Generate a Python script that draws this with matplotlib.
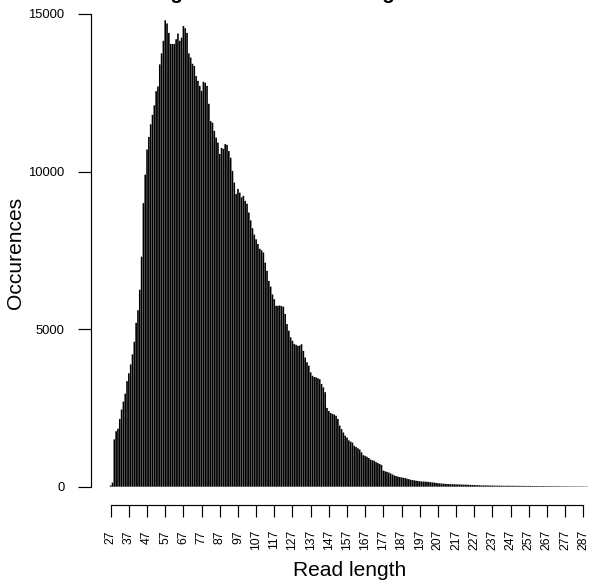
import matplotlib
matplotlib.use("Agg")
import matplotlib.pyplot as plt

# read length -> number of reads
first_length = 27
counts = [
    40, 130, 1500, 1760, 1840, 2150, 2450, 2700, 2950, 3350,          # 27-36
    3600, 3880, 4200, 4600, 5200, 5600, 6250, 7300, 9000, 9900,       # 37-46
    10700, 11100, 11500, 11800, 12100, 12550, 12700, 13400, 13750, 14150,  # 47-56
    14800, 14700, 14400, 14050, 14050, 14050, 14200, 14380, 14150, 14250,  # 57-66
    14620, 14550, 14400, 13750, 13620, 13420, 13350, 13030, 12880, 12720,  # 67-76
    12560, 12850, 12820, 12720, 12150, 11600, 11550, 11290, 11080, 10920,  # 77-86
    10560, 10750, 10720, 10870, 10850, 10650, 10440, 10020, 9650, 9290,    # 87-96
    9450, 9330, 9180, 9230, 9070, 8980, 8700, 8450, 8200, 8000,            # 97-106
    7850, 7700, 7550, 7500, 7430, 7110, 6850, 6530, 6350, 6100,            # 107-116
    5950, 5740, 5740, 5750, 5730, 5710, 5480, 5160, 4950, 4740,            # 117-126
    4630, 4530, 4500, 4470, 4480, 4520, 4310, 4100, 3950, 3840,            # 127-136
    3630, 3520, 3480, 3470, 3440, 3410, 3260, 3150, 3000, 2500,            # 137-146
    2400, 2340, 2310, 2290, 2250, 2150, 1940, 1830, 1720, 1620,            # 147-156
    1560, 1470, 1430, 1400, 1300, 1260, 1220, 1180, 1090, 1000,            # 157-166
    980, 950, 910, 860, 840, 820, 780, 750, 720, 690,                      # 167-176
    510, 490, 470, 450, 420, 390, 360, 340, 320, 305,                      # 177-186
    295, 285, 275, 255, 240, 220, 210, 200, 190, 180,                      # 187-196
    172, 168, 164, 160, 158, 150, 143, 137, 130, 120,                      # 197-206
    112, 106, 100, 95, 90, 87, 83, 80, 79, 76,                             # 207-216
    74, 72, 71, 68, 66, 65, 62, 60, 58, 55,                                # 217-226
    52, 50, 47, 45, 43, 41, 40, 41, 38, 37,                                # 227-236
    36, 36, 34, 33, 33, 31, 31, 30, 30, 29,                                # 237-246
    29, 28, 29, 27, 27, 26, 27, 25, 25, 24,                                # 247-256
    25, 23, 23, 22, 23, 21, 21, 20, 21, 19,                                # 257-266
    19, 18, 19, 17, 17, 16, 17, 15, 15, 14,                                # 267-276
    15, 13, 13, 12, 13, 12, 11, 12, 11, 10,                                # 277-286
    11, 10, 10,                                                            # 287-289
]
lengths = list(range(first_length, first_length + len(counts)))

x_ticks = list(range(27, 288, 10))
y_ticks = [0, 5000, 10000, 15000]

title = "Length distribution of long reads"
x_label = "Read length"
y_label = "Occurences"

W, H = 590, 581
plt.rcParams['font.family'] = ['Liberation Sans', 'DejaVu Sans']

fig = plt.figure(figsize=(W / 100, H / 100), dpi=100)
ax = fig.add_axes([90.7 / W, (H - 486.7) / H, (W - 90.7) / W, 472.7 / H])

# bars nearly touching, the thin gaps show as grey lines like in the R plot
ax.bar(lengths, counts, width=0.9, color='black', linewidth=0, snap=False)

ax.set_xlim(16.0, 290.7)
ax.set_ylim(0, 15000)

# R style axes: no box, detached x axis
for s in ['top', 'right']:
    ax.spines[s].set_visible(False)
ax.spines['left'].set_bounds(0, 15000)
ax.spines['bottom'].set_position(('outward', 13.2))
ax.spines['bottom'].set_bounds(27, 287)
ax.spines['left'].set_linewidth(0.85)
ax.spines['bottom'].set_linewidth(0.85)

ax.set_yticks(y_ticks)
ax.set_yticklabels([str(v) for v in y_ticks])
ax.set_xticks(x_ticks)
ax.set_xticklabels([str(v) for v in x_ticks], rotation=90)
ax.tick_params(axis='y', length=9.4, width=0.85, pad=9.4, labelsize=9.4)
ax.tick_params(axis='x', length=8.8, width=0.85, pad=9.2, labelsize=8.8)

# the title sits above the top edge, only the descenders show
fig.text(0.5, 1 + 1.2 / H, title, ha='center', va='baseline',
         fontsize=14.8, fontweight='bold')
fig.text(350 / W, 1 - 571 / H, x_label, ha='center', va='center', fontsize=15.1)
fig.text(16 / W, 1 - 253 / H, y_label, ha='center', va='center',
         rotation=90, fontsize=15.1)

fig.savefig('out.png', dpi=100)
